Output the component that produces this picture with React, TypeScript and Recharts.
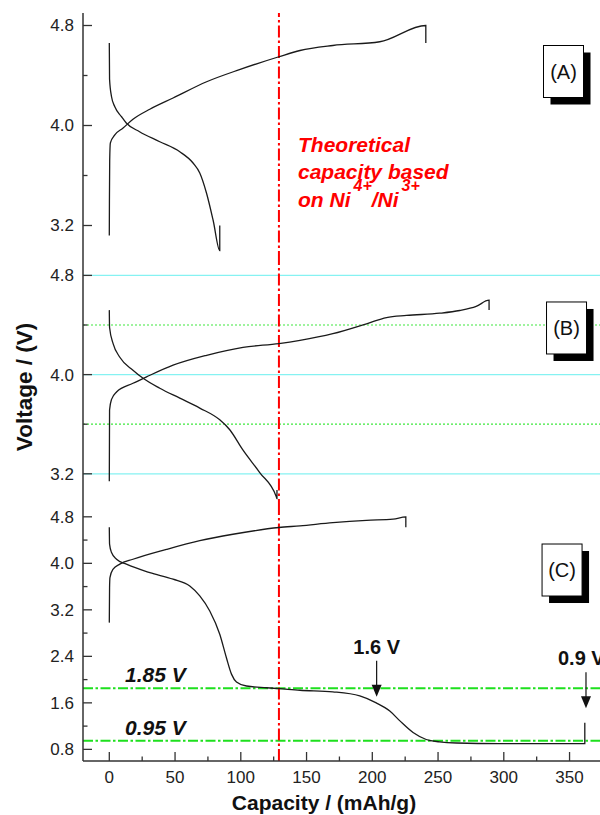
import { LineChart, Line, XAxis, YAxis, ReferenceLine, ReferenceDot } from "recharts";

type Pt = [number, number];

// [capacity (mAh/g), voltage (V)]
const chargeA: Pt[] = [
  [0, 3.12], [0.1, 3.4], [0.3, 3.72], [0.8, 3.86], [4.2, 3.925], [10.5, 3.98],
  [18, 4.05], [30.8, 4.13], [48.5, 4.22], [74, 4.35], [99, 4.447], [129, 4.55],
  [145, 4.6], [170, 4.64], [205.7, 4.67], [240.7, 4.8], [240.7, 4.66],
];
const dischargeA: Pt[] = [
  [0, 4.66], [0.2, 4.37], [1.7, 4.23], [4.2, 4.15], [9.3, 4.07], [12.9, 4.02],
  [23, 3.95], [38.4, 3.87], [53.6, 3.79], [63.7, 3.7], [68.8, 3.62], [73.9, 3.46],
  [79, 3.24], [84, 3.0], [84, 3.2],
];
const chargeB: Pt[] = [
  [0, 3.14], [0.2, 3.715], [1.7, 3.8], [5.5, 3.86], [18, 3.93], [28, 3.98],
  [48.5, 4.076], [74, 4.156], [101.7, 4.22], [129, 4.25], [145, 4.276], [170, 4.33],
  [195.6, 4.41], [210.8, 4.46], [226, 4.477], [251.3, 4.495], [266.5, 4.517],
  [279, 4.55], [288.8, 4.6], [288.8, 4.52],
];
const dischargeB: Pt[] = [
  [0, 4.52], [0.2, 4.38], [2.9, 4.25], [8, 4.14], [18, 4.035], [25.7, 3.97],
  [38.4, 3.89], [53.6, 3.81], [68.8, 3.73], [84, 3.635], [91.6, 3.555], [101.7, 3.39],
  [114.4, 3.21], [127, 3.015], [127.5, 3.0], [127.5, 3.07],
];
const chargeC: Pt[] = [
  [0, 2.98], [0.2, 3.58], [0.5, 3.755], [2.9, 3.9], [8, 3.986], [18, 4.07],
  [43.5, 4.24], [68.8, 4.39], [94, 4.5], [129, 4.616], [145, 4.645], [170, 4.7],
  [195.6, 4.74], [215.8, 4.76], [225.5, 4.8], [225.5, 4.62],
];
const dischargeC: Pt[] = [
  [0, 4.62], [0.2, 4.33], [1.7, 4.185], [5.5, 4.07], [13, 3.986], [30.8, 3.84],
  [48.5, 3.727], [61.2, 3.61], [68.8, 3.44], [76.4, 3.18], [84, 2.78], [89, 2.38],
  [93, 2.09], [96.7, 1.96], [104.3, 1.89], [119.5, 1.86], [129, 1.845], [145, 1.817],
  [170, 1.79], [190.5, 1.72], [203, 1.6], [213.3, 1.46], [221, 1.29], [231, 1.09],
  [241, 0.97], [251, 0.93], [264, 0.91], [297, 0.9], [335, 0.9], [361.6, 0.9],
  [361.6, 1.26],
];

const capDomain: [number, number] = [-20, 380];
const capTicks = [0, 25, 50, 75, 100, 125, 150, 175, 200, 225, 250, 275, 300, 325, 350, 375];
const capLabels = [0, 50, 100, 150, 200, 250, 300, 350];
const voltDomainAB: [number, number] = [2.9, 4.9];
const voltDomainC: [number, number] = [0.6, 4.9];
const voltTicksAB = [3.2, 3.6, 4.0, 4.4, 4.8];
const voltLabelsAB = [3.2, 4.0, 4.8];
const voltTicksC = [0.8, 1.2, 1.6, 2.0, 2.4, 2.8, 3.2, 3.6, 4.0, 4.4, 4.8];
const voltLabelsC = [0.8, 1.6, 2.4, 3.2, 4.0, 4.8];
const gridSolidB = [3.2, 4.0, 4.8];
const gridDottedB = [3.6, 4.4];
const theoryCap = 129;
const cutoffs = [
  { v: 1.85, text: "1.85 V" },
  { v: 0.95, text: "0.95 V" },
];

const W = 640;
const AXIS = "#333";
const CURVE = "#1a1a1a";
const FONT = "'Liberation Sans', Arial, Helvetica, sans-serif";

const pts = (arr: Pt[]) => arr.map(([x, v]) => ({ x, v }));

function capTick(withLabel: boolean, dir: number) {
  return (p: any) => {
    const v = p.payload.value;
    const major = capLabels.includes(v);
    const len = major ? 9 : 4.5;
    return (
      <g>
        <line x1={p.x} x2={p.x} y1={p.y} y2={p.y - dir * len} stroke={AXIS} strokeWidth={1.3} />
        {withLabel && major && (
          <text x={p.x} y={p.y + 22} textAnchor="middle" fontSize={17} fontFamily={FONT} fill="#222">
            {v}
          </text>
        )}
      </g>
    );
  };
}

function voltTick(labels: number[]) {
  return (p: any) => {
    const v = p.payload.value;
    const major = labels.some((l) => Math.abs(l - v) < 1e-6);
    return (
      <g>
        <line x1={p.x} x2={p.x + (major ? 9 : 4.5)} y1={p.y} y2={p.y} stroke={AXIS} strokeWidth={1.3} />
        {major && (
          <text x={p.x - 9} y={p.y} dy="0.35em" textAnchor="end" fontSize={17} fontFamily={FONT} fill="#222">
            {v.toFixed(1)}
          </text>
        )}
      </g>
    );
  };
}

const PanelTag = ({ cx, cy, text }: { cx: number; cy: number; text: string }) => (
  <g>
    <rect x={cx - 20 + 7} y={cy - 26 + 7} width={40} height={52} fill="#000" />
    <rect x={cx - 20} y={cy - 26} width={40} height={52} fill="#fff" stroke="#000" strokeWidth={1} />
    <text x={cx} y={cy} dy="0.35em" textAnchor="middle" fontSize={20} fontFamily={FONT} fill="#111">
      {text}
    </text>
  </g>
);

const Arrow = ({ cx, cy, text, dx, anchor }: { cx: number; cy: number; text: string; dx: number; anchor: "start" | "middle" }) => (
  <g>
    <line x1={cx} x2={cx} y1={cy - 36} y2={cy - 8} stroke="#111" strokeWidth={1.2} />
    <path d={`M${cx - 5},${cy - 12} L${cx + 5},${cy - 12} L${cx},${cy} Z`} fill="#111" />
    <text x={cx + dx} y={cy - 43} textAnchor={anchor} fontSize={20} fontWeight="bold" fontFamily={FONT} fill="#111">
      {text}
    </text>
  </g>
);

const TheoryNote = ({ cx, cy }: { cx: number; cy: number }) => (
  <text fill="#ff0000" fontSize={21} fontWeight="bold" fontStyle="italic" fontFamily={FONT}>
    <tspan x={cx} y={cy}>Theoretical</tspan>
    <tspan x={cx} y={cy + 27}>capacity based</tspan>
    <tspan x={cx} y={cy + 55}>on Ni</tspan>
    <tspan dx={3} dy={-16} fontSize={16}>4+</tspan>
    <tspan dy={16}>/Ni</tspan>
    <tspan dx={3} dy={-16} fontSize={16}>3+</tspan>
  </text>
);

const CutoffLabel = ({ viewBox, text }: any) => (
  <text
    x={viewBox.x + 42}
    y={viewBox.y - 6}
    fontSize={21}
    fontWeight="bold"
    fontStyle="italic"
    fontFamily={FONT}
    fill="#111"
  >
    {text}
  </text>
);

function curves(charge: Pt[], discharge: Pt[]) {
  return [charge, discharge].map((c, i) => (
    <Line
      key={i}
      data={pts(c)}
      dataKey="v"
      type="monotone"
      dot={false}
      activeDot={false}
      stroke={CURVE}
      strokeWidth={1.3}
      isAnimationActive={false}
    />
  ));
}

function bottomAxis(withLabels: boolean, height: number, label?: any) {
  return (
    <XAxis
      type="number"
      dataKey="x"
      domain={capDomain}
      ticks={capTicks}
      interval={0}
      allowDataOverflow
      height={height}
      tickSize={0}
      tickMargin={0}
      tickLine={false}
      tick={capTick(withLabels, 1)}
      axisLine={{ stroke: AXIS, strokeWidth: 1.5 }}
      label={label}
    />
  );
}

function leftAxis(domain: [number, number], ticks: number[], labels: number[], label?: any) {
  return (
    <YAxis
      type="number"
      domain={domain}
      ticks={ticks}
      interval={0}
      allowDataOverflow
      width={83}
      tickSize={0}
      tickMargin={0}
      tickLine={false}
      tick={voltTick(labels)}
      axisLine={{ stroke: AXIS, strokeWidth: 1.5 }}
      label={label}
    />
  );
}

const theoryLine = (
  <ReferenceLine x={theoryCap} stroke="#ff0000" strokeWidth={2} strokeDasharray="12 3 2.5 3" />
);

export default function App() {
  return (
    <div
      style={{
        position: "absolute",
        left: 0,
        top: 0,
        width: 600,
        height: 815,
        overflow: "hidden",
        background: "#fff",
      }}
    >
      {/* (A) */}
      <div style={{ position: "absolute", left: 0, top: 0 }}>
        <LineChart width={W} height={273} margin={{ top: 13, right: 31, bottom: 10, left: 0 }}>
          {bottomAxis(false, 0)}
          <XAxis
            xAxisId="top"
            orientation="top"
            type="number"
            domain={capDomain}
            ticks={capTicks}
            interval={0}
            allowDataOverflow
            height={0}
            tickSize={0}
            tickMargin={0}
            tickLine={false}
            tick={capTick(false, -1)}
            axisLine={{ stroke: AXIS, strokeWidth: 1.5 }}
          />
          {leftAxis(voltDomainAB, voltTicksAB, voltLabelsAB)}
          {theoryLine}
          {curves(chargeA, dischargeA)}
          <ReferenceDot x={143.5} y={3.792} r={0} shape={(p: any) => <TheoryNote cx={p.cx} cy={p.cy} />} />
          <ReferenceDot x={345.4} y={4.432} r={0} shape={(p: any) => <PanelTag cx={p.cx} cy={p.cy} text="(A)" />} />
        </LineChart>
      </div>

      {/* (B) */}
      <div style={{ position: "absolute", left: 0, top: 253 }}>
        <LineChart width={W} height={268} margin={{ top: 10, right: 31, bottom: 10, left: 0 }}>
          {bottomAxis(false, 0)}
          {leftAxis(voltDomainAB, voltTicksAB, voltLabelsAB, {
            value: "Voltage / (V)",
            angle: -90,
            position: "insideLeft",
            offset: 24,
            style: { textAnchor: "middle", fontSize: 22.5, fontWeight: "bold", fontFamily: FONT, fill: "#111" },
          })}
          {gridSolidB.map((v) => (
            <ReferenceLine key={`s${v}`} y={v} stroke="#86f2f2" strokeWidth={1.2} />
          ))}
          {gridDottedB.map((v) => (
            <ReferenceLine key={`d${v}`} y={v} stroke="#3ee83e" strokeWidth={1.2} strokeDasharray="2 2" />
          ))}
          {theoryLine}
          {curves(chargeB, dischargeB)}
          <ReferenceDot x={347.7} y={4.376} r={0} shape={(p: any) => <PanelTag cx={p.cx} cy={p.cy} text="(B)" />} />
        </LineChart>
      </div>

      {/* (C) */}
      <div style={{ position: "absolute", left: 0, top: 501 }}>
        <LineChart width={W} height={314} margin={{ top: 10, right: 31, bottom: 0, left: 0 }}>
          {bottomAxis(true, 54, {
            value: "Capacity / (mAh/g)",
            position: "insideBottom",
            offset: 5,
            dx: -22,
            style: { fontSize: 21, fontWeight: "bold", fontFamily: FONT, fill: "#111" },
          })}
          {leftAxis(voltDomainC, voltTicksC, voltLabelsC)}
          {cutoffs.map((c) => (
            <ReferenceLine
              key={c.text}
              y={c.v}
              stroke="#1ee01e"
              strokeWidth={2}
              strokeDasharray="10 2.5 2.5 2.5"
              label={(props: any) => <CutoffLabel {...props} text={c.text} />}
            />
          ))}
          {theoryLine}
          {curves(chargeC, dischargeC)}
          <ReferenceDot x={203.3} y={1.706} r={0} shape={(p: any) => <Arrow cx={p.cx} cy={p.cy} text="1.6 V" dx={0} anchor="middle" />} />
          <ReferenceDot x={362.5} y={1.506} r={0} shape={(p: any) => <Arrow cx={p.cx} cy={p.cy} text="0.9 V" dx={-28} anchor="start" />} />
          <ReferenceDot x={344.3} y={3.885} r={0} shape={(p: any) => <PanelTag cx={p.cx} cy={p.cy} text="(C)" />} />
        </LineChart>
      </div>
    </div>
  );
}
